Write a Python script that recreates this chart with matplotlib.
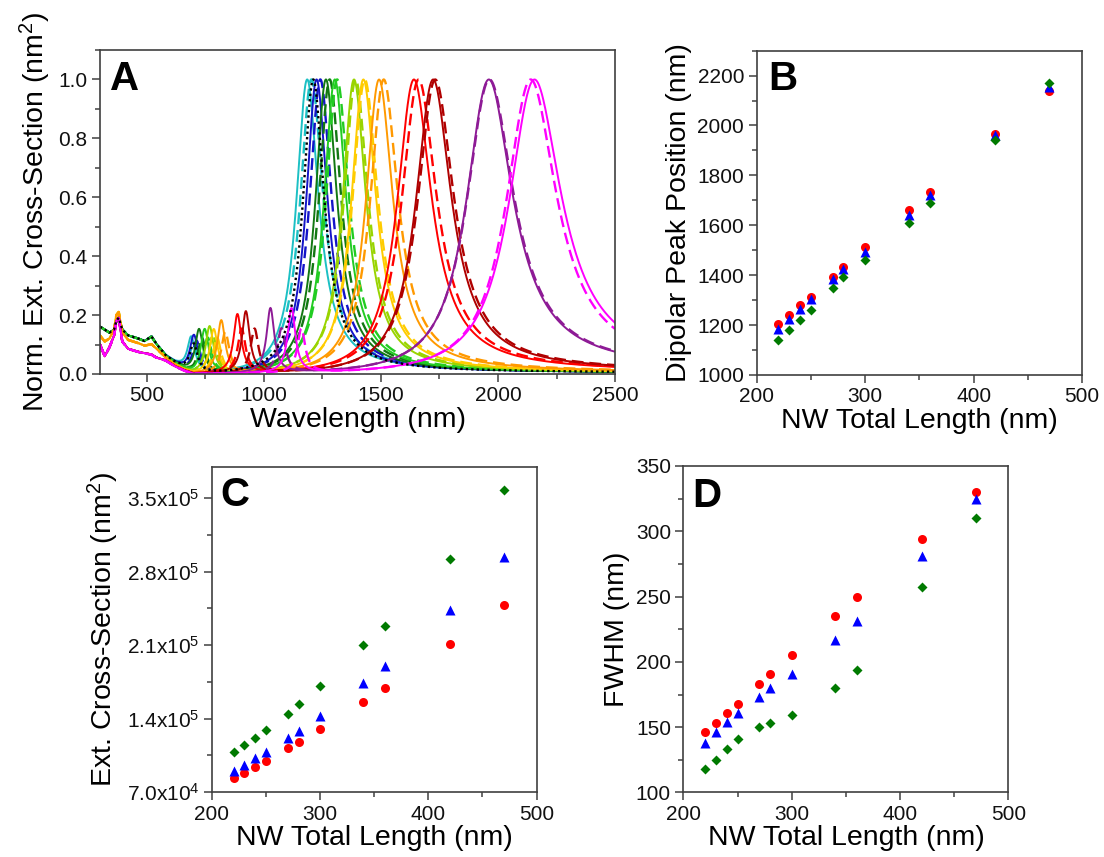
import matplotlib.pyplot as plt
import numpy as np
from matplotlib.ticker import MultipleLocator, FuncFormatter

plt.rcParams['font.family'] = ['Liberation Sans', 'DejaVu Sans']
plt.rcParams['mathtext.default'] = 'regular'

# NW total lengths (nm)
length = [220, 230, 240, 250, 270, 280, 300, 340, 360, 420, 470]

# B: dipolar peak position (nm)
peak_red = [1203, 1241, 1281, 1313, 1392, 1431, 1512, 1661, 1732, 1964, 2140]
peak_blue = [1185, 1225, 1265, 1303, 1385, 1425, 1492, 1641, 1723, 1961, 2156]
peak_green = [1140, 1180, 1220, 1260, 1349, 1391, 1460, 1611, 1691, 1943, 2172]

# C: extinction cross-section (nm^2)
ext_red = [83000, 88500, 94200, 99900, 112000, 117700, 130100, 156200, 169300, 211300, 247900]
ext_blue = [89700, 95800, 102100, 108200, 121500, 128200, 142500, 174000, 190300, 243100, 293700]
ext_green = [108200, 114900, 121500, 128900, 144500, 154000, 170900, 210000, 227800, 291800, 358000]

# D: FWHM (nm)
fwhm_red = [146, 153, 161, 168, 183, 191, 205, 235, 250, 294, 330]
fwhm_blue = [138, 146, 154, 161, 173, 180, 191, 217, 231, 281, 325]
fwhm_green = [118, 125, 133, 141, 150, 153, 159, 180, 194, 257, 310]

# A: one colour per length; solid peaks at the blue-triangle positions,
# dashed peaks at the red-circle positions; widths
spec_colors = ['#1cc0c4', '#1414c8', '#127812', '#22cc22', '#99d400', '#ffcc00',
               '#ff9900', '#ff0000', '#b00000', '#8e1b96', '#ff00ff']
width_solid = [115, 110, 112, 115, 122, 128, 140, 178, 184, 242, 272]
width_dash = [120, 115, 116, 120, 126, 132, 145, 182, 188, 245, 262]
quad_pos_solid = [690, 701, 723, 747, 768, 786, 818, 887, 923, 1028, 1118]
quad_h_solid = [0.12, 0.13, 0.15, 0.15, 0.16, 0.15, 0.18, 0.20, 0.21, 0.22, 0.22]
quad_pos_dash = [700, 712, 735, 760, 782, 800, 835, 905, 960, 1075, 1160]
quad_h_dash = [0.10, 0.11, 0.12, 0.12, 0.13, 0.12, 0.14, 0.15, 0.15, 0.15, 0.15]
bg_group = [0, 0, 0, 0, 1, 1, 1, 2, 2, 2, 2]
# extra black dotted spectrum
dot_peak, dot_width, dot_quad, dot_qh = 1211, 110, 700, 0.10

# short-wavelength background read from A
bg_wl = [300, 320, 340, 360, 370, 380, 395, 420, 460, 490, 520, 540, 580, 620, 660, 700]
bg_high = [0.16, 0.15, 0.14, 0.15, 0.18, 0.19, 0.15, 0.13, 0.12, 0.11, 0.125, 0.10, 0.06, 0.035, 0.015, 0.0]
bg_mid = [0.13, 0.11, 0.12, 0.15, 0.20, 0.21, 0.14, 0.115, 0.105, 0.095, 0.10, 0.085, 0.055, 0.03, 0.012, 0.0]
bg_low = [0.10, 0.06, 0.09, 0.13, 0.18, 0.19, 0.11, 0.085, 0.075, 0.07, 0.065, 0.055, 0.045, 0.025, 0.01, 0.0]
bgs = [bg_high, bg_mid, bg_low]

wl = np.linspace(300, 2500, 1101)
energy = 1240 / wl


def spectrum(peak, width, qpos, qh, bg):
    # Lorentzian in photon energy, width given in nm at the peak
    e0 = 1240 / peak
    ge = 1240 * width / peak ** 2
    dip = 1 / (1 + (2 * (energy - e0) / ge) ** 2)
    quad = qh / (1 + (2 * (wl - qpos) / 40) ** 2)
    y = dip + quad + np.interp(wl, bg_wl, bg)
    return y / y.max()


fig = plt.figure(figsize=(11.04, 8.57), dpi=100)
axA = fig.add_axes([0.0906, 0.5636, 0.4665, 0.378])
axB = fig.add_axes([0.6854, 0.5625, 0.2947, 0.3784])
axC = fig.add_axes([0.192, 0.0758, 0.294, 0.3796])
axD = fig.add_axes([0.619, 0.0753, 0.2944, 0.381])

# --- A ---
for i in range(len(length)):
    c = spec_colors[i]
    bg = bgs[bg_group[i]]
    axA.plot(wl, spectrum(peak_blue[i], width_solid[i], quad_pos_solid[i], quad_h_solid[i], bg),
             color=c, lw=1.4)
    axA.plot(wl, spectrum(peak_red[i], width_dash[i], quad_pos_dash[i], quad_h_dash[i], bg),
             color=c, lw=1.7, ls=(0, (5, 2.5)))
axA.plot(wl, spectrum(dot_peak, dot_width, dot_quad, dot_qh, bg_high),
         color='black', lw=1.7, ls=(0, (1, 1.3)))
axA.set_xlim(300, 2500)
axA.set_ylim(0, 1.1)
axA.xaxis.set_major_locator(MultipleLocator(500))
axA.xaxis.set_minor_locator(MultipleLocator(250))
axA.yaxis.set_major_locator(MultipleLocator(0.2))
axA.yaxis.set_minor_locator(MultipleLocator(0.1))
axA.yaxis.set_major_formatter(FuncFormatter(lambda v, p: f'{v:.1f}'))
axA.set_xlabel('Wavelength (nm)', fontsize=20.5, labelpad=1)
axA.set_ylabel('Norm. Ext. Cross-Section (nm$^2$)', fontsize=20.5, labelpad=4)

# --- B, C, D scatter panels ---
for ax, r, b, g in [(axB, peak_red, peak_blue, peak_green),
                    (axC, ext_red, ext_blue, ext_green),
                    (axD, fwhm_red, fwhm_blue, fwhm_green)]:
    ax.plot(length, r, 'o', color='#ff0000', ms=6.5, mec='none')
    ax.plot(length, b, '^', color='#0000ff', ms=7, mec='none')
    ax.plot(length, g, 'D', color='#007a00', ms=5.5, mec='none')
    ax.set_xlim(200, 500)
    ax.xaxis.set_major_locator(MultipleLocator(100))
    ax.xaxis.set_minor_locator(MultipleLocator(50))
    ax.set_xlabel('NW Total Length (nm)', fontsize=20.5, labelpad=1)

axB.set_ylim(1000, 2300)
axB.yaxis.set_major_locator(MultipleLocator(200))
axB.yaxis.set_minor_locator(MultipleLocator(100))
axB.set_ylabel('Dipolar Peak Position (nm)', fontsize=20.5, labelpad=4)

axC.set_ylim(70000, 380000)
axC.yaxis.set_major_locator(MultipleLocator(70000))
axC.yaxis.set_minor_locator(MultipleLocator(35000))


def sci_fmt(v, p):
    if v <= 0:
        return ''
    e = int(np.floor(np.log10(v)))
    return f'${v / 10 ** e:.1f}x10^{{{e}}}$'


axC.yaxis.set_major_formatter(FuncFormatter(sci_fmt))
axC.set_ylabel('Ext. Cross-Section (nm$^2$)', fontsize=20.5, labelpad=4)

axD.set_ylim(100, 350)
axD.yaxis.set_major_locator(MultipleLocator(50))
axD.yaxis.set_minor_locator(MultipleLocator(25))
axD.set_ylabel('FWHM (nm)', fontsize=20.5, labelpad=4)

for ax, letter, (lx, ly) in [(axA, 'A', (0.02, 0.97)), (axB, 'B', (0.035, 0.97)),
                             (axC, 'C', (0.026, 0.97)), (axD, 'D', (0.028, 0.965))]:
    ax.text(lx, ly, letter, transform=ax.transAxes, fontsize=29, fontweight='bold',
            ha='left', va='top')
    for s in ax.spines.values():
        s.set_color('#404040')
        s.set_linewidth(1.2)
    ax.tick_params(which='both', direction='out', top=False, right=False,
                   color='#404040', width=1.1, labelsize=15, labelcolor='#111111')
    ax.tick_params(which='major', length=6, pad=3)
    ax.tick_params(which='minor', length=3.5)

fig.savefig('out.png', dpi=100)
